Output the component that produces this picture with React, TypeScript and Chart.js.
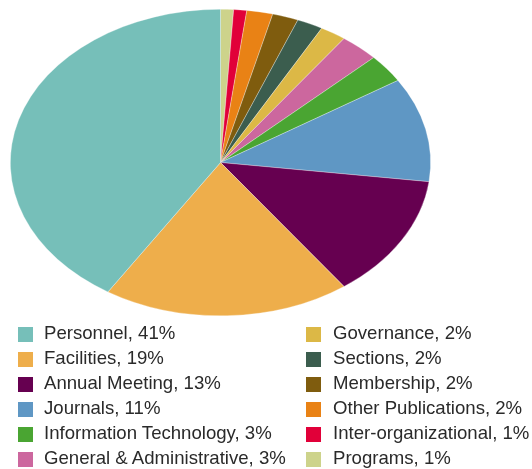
import React, { useEffect, useRef } from "react";
import { Chart, registerables } from "chart.js";

Chart.register(...registerables);

// Pie order: clockwise from 12 o'clock
const categories = [
  "Programs",
  "Inter-organizational",
  "Other Publications",
  "Membership",
  "Sections",
  "Governance",
  "General & Administrative",
  "Information Technology",
  "Journals",
  "Annual Meeting",
  "Facilities",
  "Personnel",
];
const shares = [1, 1, 2, 2, 2, 2, 3, 3, 11, 13, 19, 41];
const colors = [
  "#cdd38b",
  "#e10039",
  "#e98215",
  "#7f5c0e",
  "#3b5d4e",
  "#dcb846",
  "#cc679e",
  "#4aa532",
  "#5f97c4",
  "#660050",
  "#eeae4b",
  "#76bfb9",
];

const X_STRETCH = 210.5 / 153.5;

const ellipsePlugin = {
  id: "ellipse",
  beforeDatasetsDraw(chart: any) {
    const { ctx, chartArea } = chart;
    const cx = (chartArea.left + chartArea.right) / 2;
    const cy = (chartArea.top + chartArea.bottom) / 2;
    ctx.save();
    ctx.translate(cx, cy);
    ctx.scale(X_STRETCH, 1);
    ctx.translate(-cx, -cy);
  },
  afterDatasetsDraw(chart: any) {
    chart.ctx.restore();
  },
};

export default function App() {
  const ref = useRef<HTMLCanvasElement | null>(null);
  useEffect(() => {
    if (!ref.current) return;
    const chart = new Chart(ref.current, {
      type: "pie",
      data: {
        labels: categories,
        datasets: [
          {
            data: shares,
            backgroundColor: colors,
            borderColor: "rgba(255,255,255,0.5)",
            borderWidth: 0.5,
          },
        ],
      },
      options: {
        animation: false,
        responsive: false,
        events: [],
        layout: { padding: { left: 67, right: 158, top: 9, bottom: 14 } },
        plugins: {
          legend: { display: false },
          tooltip: { enabled: false },
        },
      },
      plugins: [ellipsePlugin],
    });
    return () => chart.destroy();
  }, []);

  const legendItems = categories
    .map((c, i) => ({ label: `${c}, ${shares[i]}%`, color: colors[i] }))
    .reverse();

  return (
    <div style={{ position: "absolute", left: 0, top: 0, width: 532, height: 469, background: "#fff" }}>
      <canvas ref={ref} width={532} height={330} style={{ position: "absolute", left: 0, top: 0, width: 532, height: 330 }} />
      {legendItems.map((it, i) => {
        const col = Math.floor(i / 6);
        const row = i % 6;
        const sx = col === 0 ? 18 : 306;
        const tx = col === 0 ? 44 : 333;
        const sy = 327 + row * 25;
        return (
          <React.Fragment key={it.label}>
            <div style={{ position: "absolute", left: sx, top: sy, width: 15, height: 15, background: it.color }} />
            <div
              style={{
                position: "absolute",
                left: tx,
                top: sy - 3.5,
                fontFamily: "'Liberation Sans', Arial, sans-serif",
                fontSize: 18.6,
                lineHeight: "18.6px",
                color: "#2a2a2a",
                whiteSpace: "nowrap",
              }}
            >
              {it.label}
            </div>
          </React.Fragment>
        );
      })}
    </div>
  );
}
